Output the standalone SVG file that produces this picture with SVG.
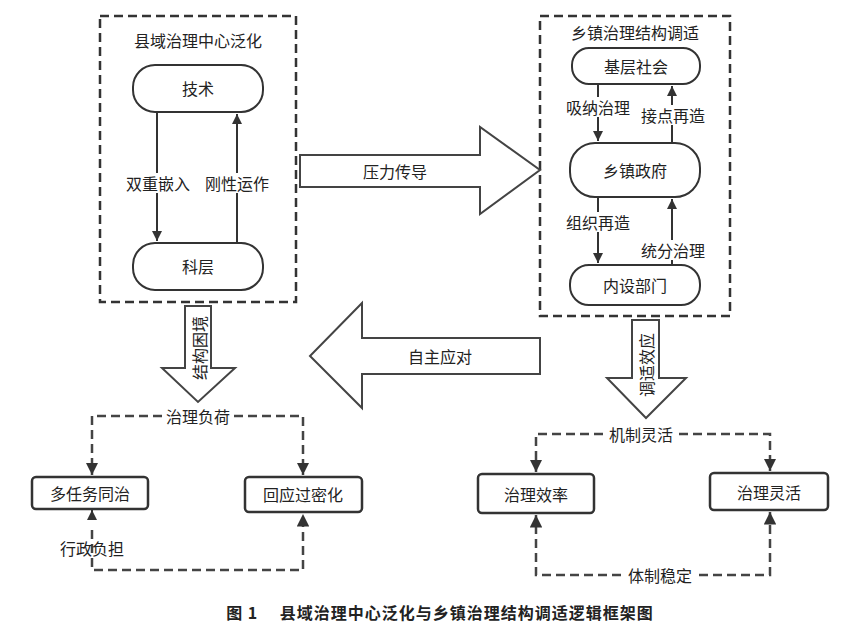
<svg xmlns="http://www.w3.org/2000/svg" width="854" height="636" viewBox="0 0 854 636">
<style>
text{font-family:"Noto Sans CJK SC",sans-serif;font-size:16px;fill:#222;text-anchor:middle;dominant-baseline:central}
.db{fill:none;stroke:#333;stroke-width:2.5;stroke-dasharray:9,5}
.pill{fill:#fff;stroke:#333;stroke-width:2}
.box{fill:#fff;stroke:#333;stroke-width:2.5}
.ln{stroke:#333;stroke-width:2;fill:none}
.dl{stroke:#444;stroke-width:2.5;fill:none;stroke-dasharray:9,5}
.big{fill:#fff;stroke:#444;stroke-width:2}
.bg{fill:#fff}
</style>
<defs>
<marker id="a" viewBox="0 0 10 10" refX="10" refY="5" markerWidth="5" markerHeight="5" orient="auto"><path d="M0,0L10,5L0,10z" fill="#333"/></marker>
</defs>
<g id="county"><rect class="db" x="100" y="16" width="196" height="286"/><text x="198" y="40">县域治理中心泛化</text></g>
<g id="jishu"><rect class="pill" x="133" y="65" width="130" height="47" rx="22"/><text x="198" y="88">技术</text></g>
<g id="keceng"><rect class="pill" x="133" y="243" width="130" height="47" rx="22"/><text x="198" y="266">科层</text></g>
<g id="town"><rect class="db" x="540" y="16" width="190" height="300"/><text x="635" y="32">乡镇治理结构调适</text></g>
<g id="jiceng"><rect class="pill" x="572" y="48" width="128" height="36" rx="17"/><text x="636" y="66">基层社会</text></g>
<g id="zhengfu"><rect class="pill" x="570" y="143" width="130" height="54" rx="25"/><text x="635" y="170">乡镇政府</text></g>
<g id="neishe"><rect class="pill" x="570" y="265" width="130" height="40" rx="19"/><text x="635" y="285">内设部门</text></g>
<g id="load"><text x="198" y="416">治理负荷</text></g>
<g id="duorenwu"><rect class="box" x="32" y="477" width="116" height="32" rx="4"/><text x="90" y="493">多任务同治</text></g>
<g id="huiying"><rect class="box" x="245" y="477" width="117" height="35" rx="4"/><text x="303" y="494">回应过密化</text></g>
<g id="jizhi"><text x="641" y="434">机制灵活</text></g>
<g id="xiaolv"><rect class="box" x="478" y="474" width="116" height="39" rx="4"/><text x="536" y="494">治理效率</text></g>
<g id="linghuo"><rect class="box" x="710" y="473" width="118" height="37" rx="4"/><text x="769" y="492">治理灵活</text></g>
<g id="connectors">
<line class="ln" x1="157" y1="112" x2="157" y2="241" marker-end="url(#a)"/>
<line class="ln" x1="237" y1="243" x2="237" y2="114" marker-end="url(#a)"/>
<rect class="bg" x="120" y="173" width="76" height="20"/><text x="158" y="183">双重嵌入</text>
<rect class="bg" x="199" y="173" width="76" height="20"/><text x="237" y="183">刚性运作</text>
<line class="ln" x1="598" y1="84" x2="598" y2="141" marker-end="url(#a)"/>
<line class="ln" x1="672" y1="143" x2="672" y2="86" marker-end="url(#a)"/>
<rect class="bg" x="560" y="97" width="76" height="20"/><text x="598" y="107">吸纳治理</text>
<rect class="bg" x="634" y="105" width="76" height="20"/><text x="673" y="115">接点再造</text>
<line class="ln" x1="598" y1="197" x2="598" y2="263" marker-end="url(#a)"/>
<line class="ln" x1="672" y1="265" x2="672" y2="199" marker-end="url(#a)"/>
<rect class="bg" x="560" y="212" width="76" height="20"/><text x="598" y="222">组织再造</text>
<rect class="bg" x="634" y="240" width="76" height="20"/><text x="673" y="250">统分治理</text>
<path class="big" d="M300,155H480V127L540,170L480,214V187H300z"/><text x="395" y="171">压力传导</text>
<path class="big" d="M540,338H362V303L310,356L362,408V374H540z"/><text x="440" y="356">自主应对</text>
<path class="big" d="M185,306H211V368H235L198,402L162,368H185z"/><text x="199" y="348" transform="rotate(-90 199 348)">结构困境</text>
<path class="big" d="M632,320H659V378H686L646,418L607,378H632z"/><text x="646" y="365" transform="rotate(-90 646 365)">调适效应</text>
<path class="dl" d="M162,416H92V475" marker-end="url(#a)"/>
<path class="dl" d="M234,416H303V475" marker-end="url(#a)"/>
<path class="dl" d="M92,530V570H303V514" marker-end="url(#a)"/>
<line class="ln" x1="92" y1="520" x2="92" y2="510" marker-end="url(#a)"/>
<text x="92" y="548">行政负担</text>
<path class="dl" d="M603,434H536V472" marker-end="url(#a)"/>
<path class="dl" d="M679,434H770V471" marker-end="url(#a)"/>
<path class="dl" d="M621,575H536V515" marker-end="url(#a)"/>
<path class="dl" d="M699,575H770V512" marker-end="url(#a)"/>
<text x="660" y="575">体制稳定</text>
</g>
<text x="440" y="612" style="font-weight:bold;font-size:16px;letter-spacing:1px">图 1　 县域治理中心泛化与乡镇治理结构调适逻辑框架图</text>
</svg>
